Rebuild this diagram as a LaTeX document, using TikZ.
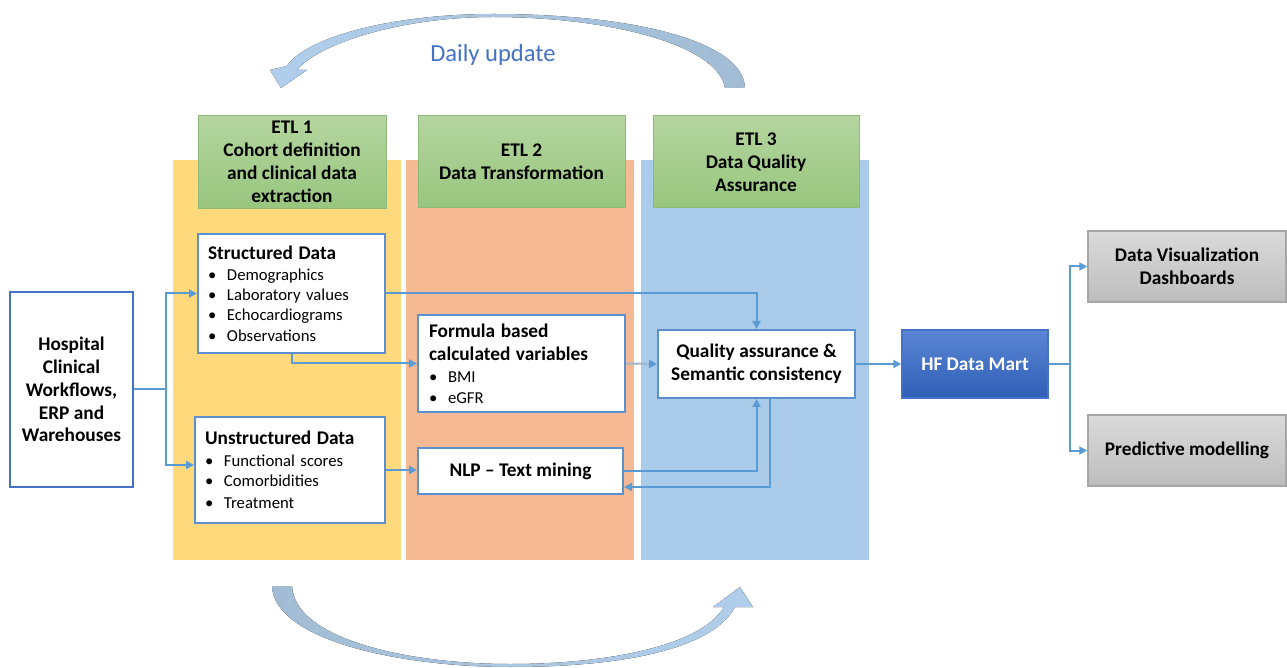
\documentclass[tikz,border=0pt]{standalone}
\usepackage{fontspec}
\setmainfont{Carlito}
\usetikzlibrary{arrows.meta,calc}

\newlength\pxu
\setlength\pxu{0.02cm}

\definecolor{colyellow}{HTML}{FFD97C}
\definecolor{colorange}{HTML}{F5B994}
\definecolor{colblue}{HTML}{ABCBEA}
\definecolor{linkblue}{HTML}{5B9BD5}
\definecolor{linkgray}{HTML}{A3B8CF}
\definecolor{boxblue}{HTML}{5B8FD0}
\definecolor{textblue}{HTML}{4472C4}
\definecolor{greentop}{HTML}{B4D59F}
\definecolor{greenbot}{HTML}{98C67E}
\definecolor{greenline}{HTML}{8DB97A}
\definecolor{graytop}{HTML}{DADADA}
\definecolor{graybot}{HTML}{BDBDBD}
\definecolor{grayline}{HTML}{A6A6A6}
\definecolor{marttop}{HTML}{5A86D4}
\definecolor{martbot}{HTML}{2F5EB6}
\definecolor{loopleft}{HTML}{B0CEEB}
\definecolor{loopright}{HTML}{A2BCD5}

\newcommand\titlefont{\bfseries\fontsize{11}{13}\selectfont}
\newcommand\listfont{\fontsize{9.5}{11.5}\selectfont}
\newcommand\bitem{\makebox[19\pxu][l]{\textbullet}}

\tikzset{
  box/.style={draw=boxblue, line width=2\pxu, fill=white, inner sep=0pt},
  listbox/.style={box, inner xsep=10\pxu, align=left, font=\listfont},
  centerbox/.style={box, align=center, font=\titlefont},
  etlhead/.style={draw=greenline, line width=1\pxu, top color=greentop, bottom color=greenbot,
    align=center, font=\titlefont, minimum height=92\pxu},
  outbox/.style={draw=grayline, line width=1.5\pxu, top color=graytop, bottom color=graybot,
    align=center, font=\titlefont, minimum width=198\pxu, minimum height=71\pxu},
  link/.style={draw=linkblue, line width=2\pxu, -{Triangle[length=0.16cm,width=0.16cm,color=linkblue]}},
}

\begin{document}
\begin{tikzpicture}[x=1\pxu, y=-1\pxu]
\useasboundingbox (0,0) rectangle (1287,668);

% stage columns
\fill[colyellow] (173,160) rectangle (401,560);
\fill[colorange] (406,160) rectangle (634,560);
\fill[colblue] (641,160) rectangle (869,560);

% daily update loop
\fill[left color=loopleft, right color=loopright]
  (745,88) .. controls (743,40) and (630,14) .. (493,14)
  .. controls (390,14) and (305,38) .. (287,66)
  -- (270,70) -- (281,88) -- (307,70) -- (297,70)
  .. controls (318,44) and (400,17) .. (493,17)
  .. controls (610,17) and (718,45) .. (725,88) -- cycle;
\fill[left color=loopright, right color=loopleft]
  (272,586) .. controls (274,640) and (400,667) .. (510,667)
  .. controls (620,667) and (712,650) .. (735,607)
  -- (753,607) -- (740,587) -- (713,607) -- (724,607)
  .. controls (702,645) and (610,664) .. (510,664)
  .. controls (410,664) and (295,640) .. (292,586) -- cycle;
\node[text=textblue, font=\fontsize{14}{16}\selectfont] (daily) at (493,55) {Daily update};

% ETL headers
\node[etlhead, minimum width=188\pxu] (etl1) at (292,162) {ETL 1\\Cohort definition\\and clinical data\\extraction};
\node[etlhead, minimum width=207\pxu] (etl2) at (521.5,162) {ETL 2\\Data Transformation};
\node[etlhead, minimum width=206\pxu] (etl3) at (756,162) {ETL 3\\Data Quality\\Assurance};

% boxes
\node[centerbox, draw=textblue, minimum width=123\pxu, minimum height=195\pxu] (hosp) at (71.5,389.5)
  {Hospital\\Clinical\\Workflows,\\ERP and\\Warehouses};
\node[listbox, text width=167\pxu, minimum height=119\pxu] (struct) at (291.5,293.5)
  {{\titlefont Structured Data}\\[1\pxu]
   \bitem Demographics\\ \bitem Laboratory values\\ \bitem Echocardiograms\\ \bitem Observations};
\node[listbox, text width=170\pxu, minimum height=106\pxu] (unstr) at (290,470)
  {{\titlefont Unstructured Data}\\[1\pxu]
   \bitem Functional scores\\ \bitem Comorbidities\\[2\pxu] \bitem Treatment};
\node[listbox, inner xsep=11\pxu, text width=185\pxu, minimum height=97\pxu] (formula) at (521.5,363.5)
  {{\titlefont Formula based\\[3\pxu] calculated variables}\\[2\pxu]
   \bitem BMI\\ \bitem eGFR};
\node[centerbox, minimum width=205\pxu, minimum height=46\pxu] (nlp) at (520.5,471) {NLP -- Text mining};
\node[centerbox, minimum width=197\pxu, minimum height=68\pxu] (qa) at (756.5,364)
  {Quality assurance \&\\Semantic consistency};
\node[draw=textblue, line width=1.5\pxu, top color=marttop, bottom color=martbot, text=white,
  font=\titlefont, minimum width=146\pxu, minimum height=68\pxu] (mart) at (975,364) {HF Data Mart};
\node[outbox] (vis) at (1187,266.5) {Data Visualization\\Dashboards};
\node[outbox] (pred) at (1187,450.5) {Predictive modelling};

% connectors
\draw[link] (hosp.east) -- ++(32,0) coordinate (split) |- (struct.west);
\draw[link] (split) |- ($(unstr.west)+(0,-5)$);
\draw[link] (struct.east) -| (qa.north);
\draw[link] (struct.south) |- (formula.west);
\draw[link, draw=linkgray] (formula.east) -- (qa.west);
\draw[link] (unstr.east) -- (unstr.east -| nlp.west);
\draw[link] (nlp.east) -| (qa.south);
\draw[link] ($(qa.south)+(13,0)$) |- ($(nlp.east)+(0,16)$);
\draw[link] (qa.east) -- (mart.west);
\draw[link] (mart.east) -- ++(21,0) coordinate (fork) |- (vis.west);
\draw[link] (fork) |- (pred.west);
\end{tikzpicture}
\end{document}
